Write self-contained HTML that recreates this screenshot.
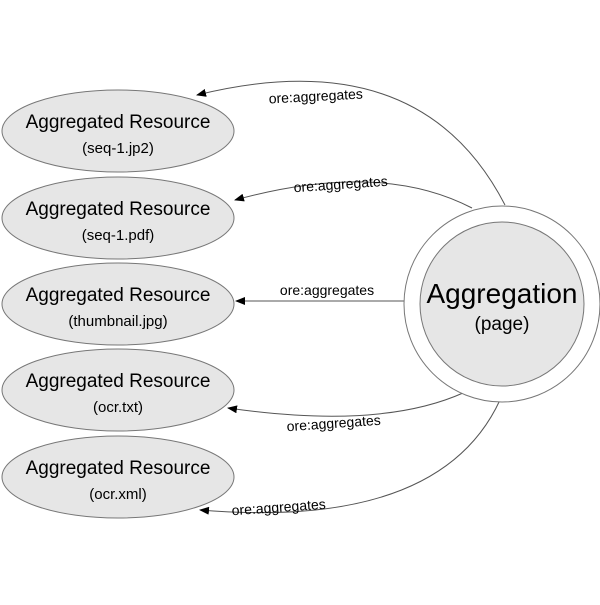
<!DOCTYPE html>
<html><head><style>body{margin:0;background:#fff}</style></head><body>
<svg width="600" height="600" xmlns="http://www.w3.org/2000/svg" font-family="Liberation Sans, sans-serif">
<defs><marker id="a" markerWidth="10" markerHeight="8" refX="9" refY="4" orient="auto" markerUnits="userSpaceOnUse"><path d="M0,0 L10,4 L0,8z" fill="#000"/></marker></defs>
<g fill="none" stroke="#555" stroke-width="1">
<path d="M505,205 Q420,40 197,95" marker-end="url(#a)"/>
<path d="M472,208 Q380,160 235,200" marker-end="url(#a)"/>
<path d="M404,301 L236,301" marker-end="url(#a)"/>
<path d="M463,393 Q380,430 228,408" marker-end="url(#a)"/>
<path d="M500,400 Q440,530 200,510" marker-end="url(#a)"/>
</g>
<g fill="#e6e6e6" stroke="#777">
<ellipse cx="118" cy="131" rx="116" ry="41"/>
<ellipse cx="118" cy="218" rx="116" ry="41"/>
<ellipse cx="118" cy="304" rx="116" ry="41"/>
<ellipse cx="118" cy="390" rx="116" ry="41"/>
<ellipse cx="118" cy="477" rx="116" ry="41"/>
</g>
<circle cx="502" cy="304" r="98" fill="#fff" stroke="#777"/>
<circle cx="502" cy="304" r="82" fill="#e6e6e6" stroke="#777"/>
<g text-anchor="middle" fill="#000">
<text x="118" y="128" font-size="19">Aggregated Resource</text><text x="118" y="153" font-size="15">(seq-1.jp2)</text>
<text x="118" y="215" font-size="19">Aggregated Resource</text><text x="118" y="240" font-size="15">(seq-1.pdf)</text>
<text x="118" y="301" font-size="19">Aggregated Resource</text><text x="118" y="326" font-size="15">(thumbnail.jpg)</text>
<text x="118" y="387" font-size="19">Aggregated Resource</text><text x="118" y="412" font-size="15">(ocr.txt)</text>
<text x="118" y="474" font-size="19">Aggregated Resource</text><text x="118" y="499" font-size="15">(ocr.xml)</text>
<text x="502" y="303" font-size="28">Aggregation</text><text x="502" y="330" font-size="19">(page)</text>
<g font-size="14">
<text x="316" y="101" transform="rotate(-3 316 101)">ore:aggregates</text>
<text x="341" y="189" transform="rotate(-4 341 189)">ore:aggregates</text>
<text x="327" y="295">ore:aggregates</text>
<text x="334" y="428" transform="rotate(-4 334 428)">ore:aggregates</text>
<text x="279" y="512" transform="rotate(-4 279 512)">ore:aggregates</text>
</g></g>
</svg>
</body></html>
